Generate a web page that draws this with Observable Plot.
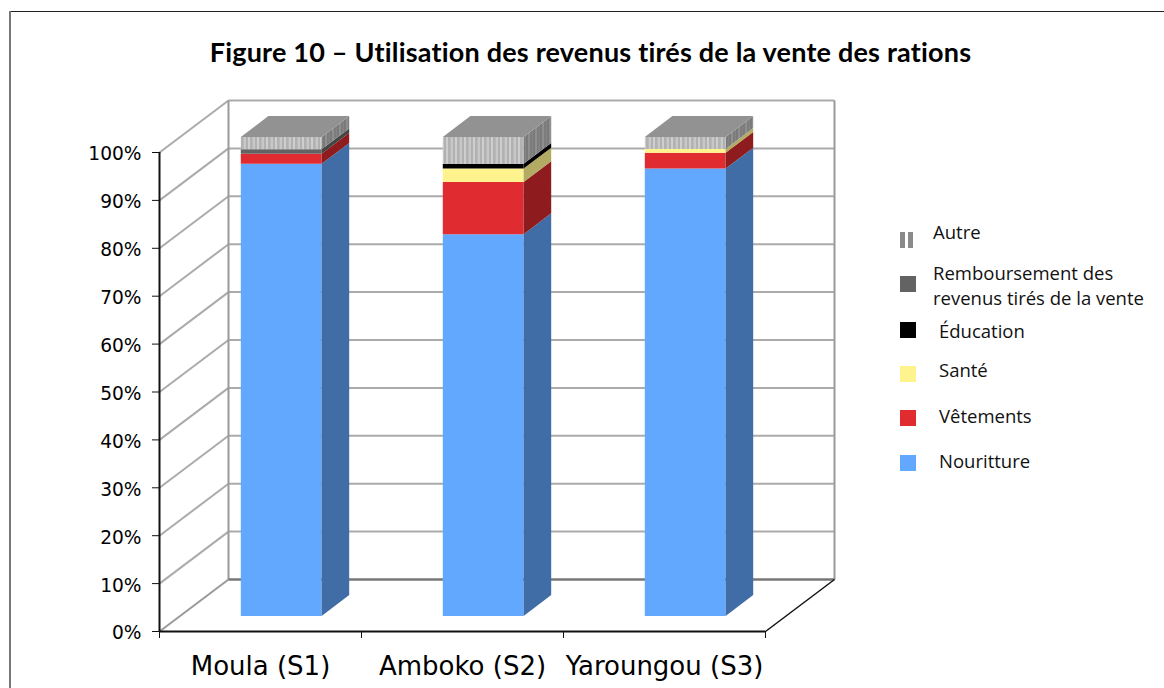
<!DOCTYPE html>
<html><head><meta charset="utf-8">
<script src="https://cdn.jsdelivr.net/npm/d3@7"></script>
<script src="https://cdn.jsdelivr.net/npm/@observablehq/plot@0.6"></script>
<style>
html,body{margin:0;padding:0;background:#fff;overflow:hidden}
#fig{position:relative;width:1164px;height:688px;overflow:hidden}
#frameTop{position:absolute;left:9px;top:11px;width:1155px;height:1px;background:#222}
#frameLeft{position:absolute;left:9px;top:11px;width:2px;height:677px;background:#777}
#title{position:absolute;left:209px;top:35px;width:763px;text-align:center;white-space:nowrap;font:700 27px Lato,sans-serif;letter-spacing:.2px;color:#000}
#chart{position:absolute;left:0;top:0}
.lg{position:absolute;font:18.5px/25px "Open Sans",sans-serif;color:#111;white-space:nowrap}
.sw{position:absolute;width:16px;height:16px}
</style></head><body>
<div id="fig"><div id="chart"></div><div id="frameTop"></div><div id="frameLeft"></div><div id="title">Figure 10 – Utilisation des revenus tirés de la vente des rations</div></div>
<script>
const categories = ["Moula (S1)", "Amboko (S2)", "Yaroungou (S3)"];
const nouritture = [94.4, 79.7, 93.4];
const vetements = [2.1, 10.9, 3.3];
const sante = [0, 2.8, 0.8];
const education = [0, 1.0, 0];
const remboursement = [0.9, 0, 0];
const autre = [2.6, 5.6, 2.5];
const seriesNames = ["Nouritture", "Vêtements", "Santé", "Éducation", "Remboursement des revenus tirés de la vente", "Autre"];
const seriesValues = [nouritture, vetements, sante, education, remboursement, autre];
const percentTicks = [0,10,20,30,40,50,60,70,80,90,100];

const frontColors = ["#62a8ff","#e02b30","#fff38e","#000000","#636363","url(#hFront)"];
const sideColors  = ["#406da5","#8e1c1f","#b3ab63","#000000","#444444","url(#hSide)"];
const topColor = "url(#hTop)";

// oblique depth in data units: one full floor depth
const DX = 69/202, DY = 52/4.79;
const barW = 0.4, d0 = 0.3, d1 = 0.7;
const px = (x,d)=>x+d*DX, py=(y,d)=>y+d*DY;

const polys=[];
function face(id,fill,pts){pts.forEach(([x,y,d])=>polys.push({id,fill,x:px(x,d),y:py(y,d)}));}
categories.forEach((c,i)=>{
  let base=0; const l=i+.5-barW/2, r=i+.5+barW/2;
  seriesValues.forEach((vals,s)=>{
    const v=vals[i]; if(!v) return; const t=base+v;
    face(`f${i}${s}`,frontColors[s],[[l,base,d0],[r,base,d0],[r,t,d0],[l,t,d0]]);
    face(`s${i}${s}`,sideColors[s],[[r,base,d0],[r,base,d1],[r,t,d1],[r,t,d0]]);
    base=t;
  });
  face(`t${i}`,topColor,[[l,base,d0],[r,base,d0],[r,base,d1],[l,base,d1]]);
});

const backGrid=percentTicks.filter(t=>t>0).map(t=>({x1:px(0,1),y1:py(t,1),x2:px(3,1),y2:py(t,1)}));
const sideGrid=percentTicks.filter(t=>t>0).map(t=>({x1:0,y1:t,x2:px(0,1),y2:py(t,1)}));
const walls=[
 {x1:px(0,1),y1:py(0,1),x2:px(0,1),y2:py(100,1)},
 {x1:px(3,1),y1:py(0,1),x2:px(3,1),y2:py(100,1)},
 {x1:0,y1:0,x2:px(0,1),y2:py(0,1)}
];

const plot=Plot.plot({
  width:1164,height:688,marginLeft:159,marginRight:399,marginTop:152,marginBottom:57,
  style:{background:"transparent",fontFamily:"'DejaVu Sans',sans-serif",color:"#000"},
  x:{domain:[0,3],axis:null},
  y:{domain:[0,100],axis:null},
  color:{type:"identity"},
  marks:[
    Plot.link(sideGrid,{x1:"x1",y1:"y1",x2:"x2",y2:"y2",stroke:"#ababab",strokeWidth:2}),
    Plot.link(backGrid,{x1:"x1",y1:"y1",x2:"x2",y2:"y2",stroke:"#ababab",strokeWidth:2}),
    Plot.link(walls,{x1:"x1",y1:"y1",x2:"x2",y2:"y2",stroke:"#9a9a9a",strokeWidth:2}),
    Plot.link([{x1:px(0,1),x2:px(3,1),y:py(0,1)}],{x1:"x1",x2:"x2",y1:"y",y2:"y",stroke:"#777",strokeWidth:2.5}),
    Plot.line(polys,{x:"x",y:"y",z:"id",fill:"fill",stroke:"none",curve:"linear-closed"}),
    Plot.link([{x1:3,y1:0,x2:px(3,1),y2:py(0,1)}],{x1:"x1",y1:"y1",x2:"x2",y2:"y2",stroke:"#111",strokeWidth:1.5}),
    Plot.ruleX([0],{y1:0,y2:100,stroke:"#111",strokeWidth:2}),
    Plot.ruleY([0],{x1:0,x2:3,stroke:"#111",strokeWidth:2}),
    Plot.axisY({ticks:percentTicks,tickFormat:()=>"",tickSize:7,label:null,stroke:"#111"}),
    Plot.axisY({ticks:percentTicks,tickFormat:d=>d+"%",tickSize:0,tickPadding:18,dy:2,fontSize:18.6,label:null}),
    Plot.axisX({ticks:[0,1,2,3],tickFormat:()=>"",tickSize:7,label:null,stroke:"#111"}),
    Plot.axisX({ticks:[.5,1.5,2.5],tickFormat:d=>categories[d-.5],tickSize:0,tickPadding:25,fontSize:26,label:null})
  ]
});
// vertical stripe and fine-dot fills for "Autre"
const defs=d3.select(plot).append("defs");
function stripes(id,w,bg,list){
  const p=defs.append("pattern").attr("id",id).attr("patternUnits","userSpaceOnUse").attr("width",w).attr("height",2);
  p.append("rect").attr("width",w).attr("height",2).attr("fill",bg);
  list.forEach(([x,c,sw])=>p.append("rect").attr("x",x).attr("width",sw||1).attr("height",2).attr("fill",c));
}
stripes("hFront",9,"#b9b9b9",[[1,"#d6d6d6"],[3,"#a9a9a9"],[5,"#e2e2e2"],[7,"#ababab"]]);
stripes("hSide",7,"#858585",[[1,"#6f6f6f"],[3,"#999"],[5,"#747474"]]);
const pt=defs.append("pattern").attr("id","hTop").attr("patternUnits","userSpaceOnUse").attr("width",2).attr("height",2);
pt.append("rect").attr("width",2).attr("height",2).attr("fill","#8f8f8f");
pt.append("rect").attr("width",1).attr("height",1).attr("fill","#9a9a9a");
document.getElementById("chart").append(plot);

// legend
const legendRows=[
 {label:"Autre",sw:"url(#lg)",sx:900,sy:232,tx:933,ty:219},
 {label:"Remboursement des<br>revenus tirés de la vente",sw:"#636363",sx:900,sy:276,tx:933,ty:260},
 {label:"Éducation",sw:"#000",sx:900,sy:322,tx:939,ty:318},
 {label:"Santé",sw:"#fff38e",sx:900,sy:366,tx:939,ty:357},
 {label:"Vêtements",sw:"#e02b30",sx:900,sy:410,tx:939,ty:403},
 {label:"Nouritture",sw:"#62a8ff",sx:900,sy:455,tx:939,ty:448}
];
const fig=document.getElementById("fig");
legendRows.forEach(r=>{
  const s=document.createElement("div");s.className="sw";s.style.left=r.sx+"px";s.style.top=r.sy+"px";
  s.style.background=r.label==="Autre"?"linear-gradient(90deg,#8a8a8a 0 5px,#fff 5px 8px,#8a8a8a 8px 13px,#fff 13px)":r.sw;
  fig.append(s);
  const t=document.createElement("div");t.className="lg";t.style.left=r.tx+"px";t.style.top=r.ty+"px";t.innerHTML=r.label;fig.append(t);
});
</script>
</body></html>
